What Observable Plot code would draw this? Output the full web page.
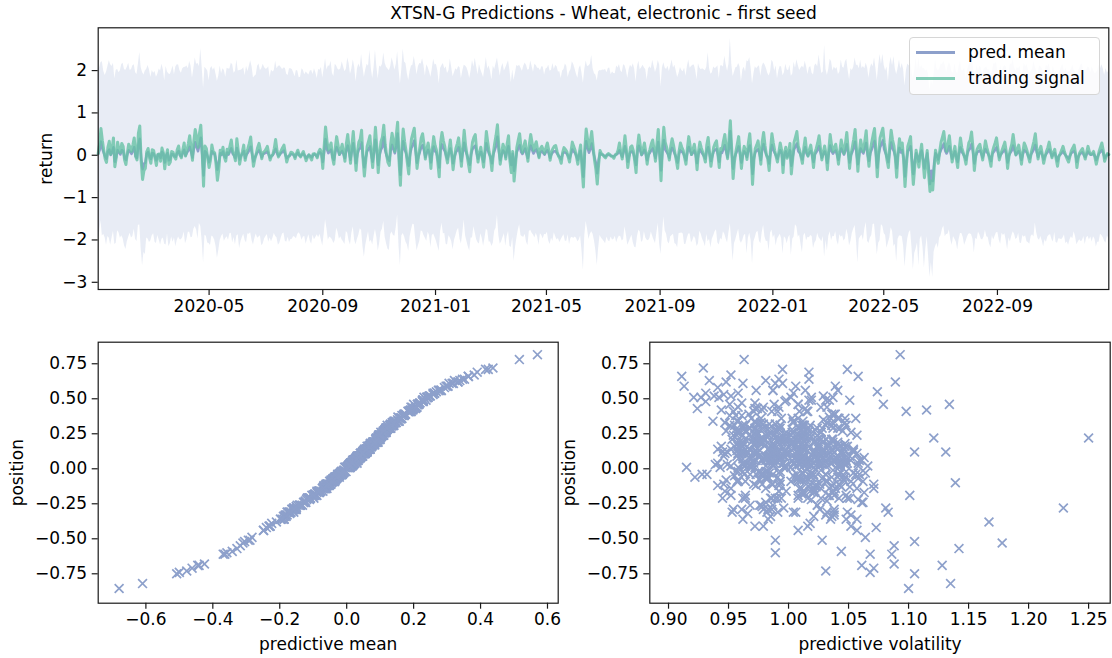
<!DOCTYPE html>
<html>
<head>
<meta charset="utf-8">
<script src="https://cdn.jsdelivr.net/npm/d3@7"></script>
<script src="https://cdn.jsdelivr.net/npm/@observablehq/plot@0.6"></script>
<style>
  html, body { margin: 0; padding: 0; background: #fff; }
  #root { position: relative; width: 1112px; height: 658px; overflow: hidden; font-family: "DejaVu Sans", sans-serif; }
  #root svg { position: absolute; overflow: visible; }
  .legend { position: absolute; left: 909px; top: 37px; width: 191px; height: 58px; box-sizing: border-box;
            border: 1px solid #d6d6d6; border-radius: 4px; background: rgba(255,255,255,0.8); }
  .legend .sw { position: absolute; left: 6px; width: 39px; height: 3px; }
  .legend .lb { position: absolute; left: 58px; font-size: 17px; line-height: 20px; color: #000; white-space: nowrap; }
</style>
</head>
<body>
<div id="root"></div>
<script>
// ---------------- data ----------------
const titleText = "XTSN-G Predictions - Wheat, electronic - first seed";
const seriesNames = ["pred. mean", "trading signal"];
const startDate = "2020-01-02";
const stepHours = 36;

// trading signal / position
const position = [
  0.04, 0.27, 0.63, 0.35, 0.12, -0.08, -0.17, 0.19, 0.33, 0.02, 0.14, 0.41, -0.27, -0.06, 0.31, 0.12, 0.06, 0.28, 0.21, -0.11,
  -0.22, 0.05, 0.26, 0.18, 0.09, 0.24, 0.41, -0.03, -0.11, 0.52, 0.69, -0.14, -0.57, -0.36, -0.31, 0.08, 0.16, -0.06, -0.19, 0.13,
  0.11, -0.07, -0.24, 0.02, 0.03, -0.14, 0.17, 0.06, -0.32, -0.03, 0.13, -0.22, -0.16, 0.09, 0.07, -0.04, -0.09, 0.13, 0.22, 0.01,
  -0.06, 0.12, 0.29, -0.02, 0.11, 0.27, 0.46, 0.18, -0.12, 0.33, 0.61, 0.42, 0.19, 0.51, 0.71, 0.08, -0.73, 0.22, 0.16, -0.07,
  -0.29, -0.11, 0.24, 0.08, 0.06, -0.21, -0.59, -0.33, 0.12, 0.03, 0.19, -0.04, -0.14, 0.14, 0.04, 0.21, 0.36, 0.09, 0.01, -0.13,
  0.39, 0.11, -0.21, -0.03, 0.08, 0.24, -0.12, 0.05, 0.16, 0.28, 0.43, 0.07, -0.26, -0.09, 0.03, 0.18, 0.28, 0.12, -0.08, 0.06,
  0.09, 0.14, 0.21, 0.04, -0.11, -0.02, 0.02, 0.16, 0.37, 0.11, -0.04, 0.03, 0.11, 0.18, 0.24, 0.04, -0.16, -0.05, -0.01, 0.07,
  0.06, 0.02, -0.08, 0.04, 0.12, 0.01, -0.04, 0.03, 0.09, -0.02, -0.13, -0.04, 0.01, -0.05, -0.11, 0.03, 0.04, 0.01, -0.06, 0.08,
  0.14, 0.08, -0.31, 0.21, 0.67, 0.34, 0.12, 0.19, 0.29, -0.06, -0.21, 0.17, 0.44, 0.24, 0.02, 0.13, 0.26, 0.06, -0.14, 0.27,
  0.49, 0.16, -0.19, 0.23, 0.56, 0.09, -0.36, 0.07, 0.31, 0.38, 0.59, -0.07, -0.49, -0.12, 0.21, 0.33, 0.46, 0.04, -0.29, 0.19,
  0.66, 0.18, -0.41, 0.04, 0.32, 0.43, 0.71, 0.26, 0.01, -0.17, -0.24, 0.27, 0.52, 0.31, 0.09, 0.47, 0.78, -0.13, -0.71, 0.14,
  0.62, 0.33, 0.12, -0.18, -0.44, 0.06, 0.39, 0.52, 0.64, 0.17, -0.31, -0.04, 0.18, 0.41, 0.51, 0.26, -0.09, 0.14, 0.29, 0.08,
  -0.31, 0.14, 0.44, 0.23, 0.12, -0.17, -0.51, 0.31, 0.54, 0.34, 0.21, -0.02, -0.18, 0.12, 0.36, 0.03, -0.34, -0.06, 0.16, 0.27,
  0.41, 0.09, -0.26, 0.18, 0.59, 0.24, 0.02, -0.19, -0.39, 0.04, 0.31, 0.42, 0.49, 0.11, -0.16, 0.06, 0.19, -0.04, -0.28, 0.13,
  0.56, 0.31, 0.08, -0.07, -0.36, 0.04, 0.28, 0.47, 0.72, 0.21, -0.21, 0.03, 0.26, 0.16, -0.09, 0.27, 0.46, -0.14, -0.41, 0.09,
  -0.61, -0.23, 0.19, 0.36, 0.51, 0.18, 0.06, 0.21, 0.34, 0.07, -0.14, 0.26, 0.49, 0.29, 0.11, 0.22, 0.32, 0.13, -0.06, 0.16,
  0.21, 0.13, 0.04, 0.18, 0.29, 0.12, -0.12, 0.07, 0.16, 0.21, 0.23, 0.09, -0.02, -0.08, -0.19, 0.06, 0.18, 0.14, 0.09, -0.04,
  -0.16, 0.08, 0.31, 0.21, 0.12, -0.04, -0.21, 0.06, 0.24, -0.31, -0.75, 0.14, 0.62, 0.38, 0.14, 0.33, 0.56, 0.21, -0.11, -0.33,
  -0.68, -0.21, 0.11, 0.04, 0.01, -0.03, -0.06, 0.01, 0.04, 0.02, -0.02, -0.03, -0.07, 0.01, 0.03, 0.12, 0.29, 0.08, -0.09, 0.16,
  0.46, 0.13, -0.29, -0.04, 0.19, 0.22, 0.11, -0.13, -0.41, 0.19, 0.48, 0.24, 0.02, 0.13, 0.29, 0.07, -0.21, 0.03, 0.14, 0.27,
  0.36, 0.12, -0.14, 0.26, 0.61, 0.04, -0.6, 0.19, 0.66, 0.31, 0.19, 0.06, -0.11, 0.21, 0.39, 0.24, 0.06, -0.12, -0.31, 0.09,
  0.29, 0.19, 0.11, -0.06, -0.21, 0.16, 0.44, 0.22, 0.02, 0.13, 0.26, 0.04, -0.34, 0.08, 0.31, 0.18, 0.08, -0.03, -0.16, 0.24,
  0.42, 0.07, -0.26, -0.02, 0.19, 0.28, 0.34, 0.04, -0.29, 0.16, 0.12, 0.33, 0.49, 0.19, -0.08, 0.36, 0.815, 0.13, -0.55, -0.14,
  0.09, 0.26, 0.44, 0.07, -0.31, 0.02, 0.21, 0.11, -0.1, 0.29, 0.51, 0.06, -0.69, -0.12, 0.16, 0.24, 0.34, 0.09, -0.21, 0.32,
  0.54, 0.23, 0.01, -0.09, -0.36, 0.14, 0.51, 0.29, 0.11, -0.03, -0.16, 0.08, 0.29, 0.12, -0.41, 0.04, 0.19, -0.07, 0.06, 0.28,
  -0.44, -0.08, 0.31, 0.43, 0.56, 0.21, 0.12, -0.04, -0.19, 0.17, 0.41, 0.09, -0.02, 0.13, 0.24, 0.02, -0.29, 0.06, 0.16, 0.29,
  0.46, 0.17, -0.11, 0.06, 0.22, 0.03, -0.34, 0.12, 0.49, 0.24, 0.09, 0.18, 0.26, 0.04, -0.21, 0.11, 0.36, 0.19, 0.04, 0.27,
  0.54, 0.13, -0.31, 0.02, 0.19, 0.38, 0.61, 0.14, -0.38, 0.06, 0.36, 0.19, 0.09, 0.33, 0.58, 0.06, -0.26, 0.12, 0.31, 0.48,
  0.63, 0.09, -0.51, 0.04, 0.41, 0.53, 0.64, 0.31, 0.11, -0.11, -0.29, 0.24, 0.59, 0.36, 0.22, -0.06, -0.52, 0.07, 0.39, 0.14,
  0.29, -0.12, -0.74, -0.24, 0.21, 0.32, 0.44, -0.19, -0.69, -0.28, 0.12, -0.06, -0.28, 0.04, 0.26, -0.14, -0.53, -0.21, 0.11, -0.42,
  -0.855, -0.61, -0.82, -0.33, 0.12, -0.04, -0.19, 0.09, 0.31, 0.43, 0.56, 0.24, 0.09, 0.27, 0.46, 0.12, -0.16, 0.03, 0.21, -0.07,
  -0.29, 0.12, 0.41, 0.17, 0.06, -0.06, -0.21, 0.08, 0.29, 0.36, 0.55, 0.19, -0.36, -0.03, 0.14, 0.21, 0.26, 0.08, -0.11, 0.11,
  0.34, 0.18, 0.06, -0.09, -0.26, 0.07, 0.19, 0.29, 0.41, 0.16, -0.11, 0.02, 0.12, 0.21, 0.31, 0.09, -0.31, -0.02, 0.14, 0.26,
  0.49, 0.24, 0.01, 0.13, 0.24, 0.04, -0.21, 0.07, 0.29, 0.21, 0.11, -0.04, -0.16, 0.06, 0.19, 0.33, 0.51, 0.16, -0.09, 0.12,
  0.21, 0.03, -0.19, -0.04, 0.09, 0.18, 0.31, 0.12, -0.06, 0.06, 0.14, -0.08, -0.26, -0.03, 0.04, 0.12, 0.21, 0.08, -0.01, -0.09,
  -0.16, -0.02, 0.11, 0.17, 0.24, 0.04, -0.29, -0.06, 0.06, 0.11, 0.16, 0.03, -0.09, 0.06, 0.21, 0.08, 0.02, 0.04, 0.09, -0.05,
  -0.21, -0.06, 0.09, 0.19, 0.29, 0.11, -0.14, -0.04, 0.04, 0.02
];

// predictive mean
const predMean = [
  0.031, 0.118, 0.322, 0.152, 0.059, -0.034, -0.081, 0.087, 0.136, 0.006, 0.07, 0.19, -0.151, -0.036, 0.121, 0.058, 0.018, 0.12, 0.1, -0.058,
  -0.111, 0.019, 0.118, 0.083, 0.031, 0.097, 0.193, -0.02, -0.062, 0.25, 0.39, -0.073, -0.328, -0.198, -0.178, 0.04, 0.073, -0.022, -0.089, 0.05,
  0.041, -0.04, -0.122, 0.011, 0.019, -0.066, 0.084, 0.034, -0.17, -0.012, 0.052, -0.12, -0.089, 0.032, 0.025, -0.027, -0.037, 0.061, 0.101, -0.002,
  -0.028, 0.051, 0.131, -0.006, 0.056, 0.112, 0.2, 0.077, -0.055, 0.147, 0.306, 0.194, 0.094, 0.243, 0.415, 0.029, -0.478, 0.097, 0.064, -0.041,
  -0.164, -0.047, 0.095, 0.039, 0.033, -0.118, -0.342, -0.184, 0.047, 0.008, 0.09, -0.015, -0.059, 0.066, 0.014, 0.091, 0.165, 0.035, -0.004, -0.069,
  0.172, 0.055, -0.098, -0.019, 0.041, 0.098, -0.068, 0.016, 0.061, 0.119, 0.201, 0.037, -0.148, -0.051, 0.02, 0.071, 0.114, 0.048, -0.047, 0.028,
  0.046, 0.058, 0.087, 0.019, -0.061, -0.016, 0.004, 0.074, 0.153, 0.044, -0.013, 0.018, 0.055, 0.082, 0.111, 0.011, -0.071, -0.028, -0.009, 0.027,
  0.021, 0.013, -0.041, 0.016, 0.061, -0.001, -0.022, 0.019, 0.038, -0.008, -0.07, -0.024, 0.009, -0.021, -0.05, 0.009, 0.024, 0.002, -0.033, 0.041,
  0.07, 0.033, -0.158, 0.089, 0.381, 0.141, 0.05, 0.088, 0.132, -0.033, -0.11, 0.069, 0.192, 0.109, 0.013, 0.059, 0.102, 0.021, -0.068, 0.118,
  0.228, 0.071, -0.104, 0.104, 0.282, 0.039, -0.187, 0.026, 0.134, 0.165, 0.301, -0.037, -0.283, -0.052, 0.093, 0.147, 0.211, 0.023, -0.151, 0.078,
  0.364, 0.076, -0.231, 0.011, 0.131, 0.198, 0.423, 0.117, -0.006, -0.089, -0.129, 0.109, 0.246, 0.139, 0.048, 0.219, 0.516, -0.061, -0.462, 0.062,
  0.333, 0.138, 0.061, -0.094, -0.248, 0.029, 0.171, 0.248, 0.346, 0.079, -0.177, -0.021, 0.071, 0.183, 0.239, 0.114, -0.046, 0.054, 0.129, 0.037,
  -0.169, 0.069, 0.206, 0.094, 0.06, -0.083, -0.289, 0.131, 0.258, 0.157, 0.096, -0.007, -0.096, 0.049, 0.161, 0.018, -0.189, -0.031, 0.071, 0.112,
  0.187, 0.043, -0.141, 0.072, 0.297, 0.101, 0.017, -0.099, -0.224, 0.021, 0.141, 0.198, 0.226, 0.046, -0.082, 0.024, 0.083, -0.015, -0.157, 0.051,
  0.283, 0.128, 0.03, -0.031, -0.187, 0.013, 0.115, 0.218, 0.437, 0.093, -0.116, 0.016, 0.114, 0.069, -0.044, 0.116, 0.216, -0.068, -0.232, 0.034,
  -0.369, -0.124, 0.079, 0.161, 0.241, 0.081, 0.029, 0.087, 0.156, 0.031, -0.063, 0.113, 0.228, 0.126, 0.041, 0.098, 0.139, 0.058, -0.035, 0.071,
  0.098, 0.052, 0.012, 0.08, 0.118, 0.049, -0.062, 0.026, 0.07, 0.096, 0.095, 0.042, -0.002, -0.043, -0.094, 0.03, 0.073, 0.062, 0.036, -0.021,
  -0.077, 0.029, 0.137, 0.088, 0.053, -0.021, -0.112, 0.022, 0.108, -0.166, -0.508, 0.062, 0.332, 0.172, 0.059, 0.142, 0.276, 0.089, -0.049, -0.178,
  -0.425, -0.114, 0.052, 0.021, 0.011, -0.014, -0.03, 0.008, 0.014, 0.007, -0.016, -0.018, -0.03, 0.006, 0.02, 0.048, 0.117, 0.036, -0.036, 0.074,
  0.213, 0.059, -0.151, -0.018, 0.079, 0.092, 0.05, -0.069, -0.229, 0.079, 0.226, 0.104, 0.004, 0.054, 0.129, 0.032, -0.116, 0.009, 0.06, 0.116,
  0.163, 0.047, -0.065, 0.114, 0.315, 0.016, -0.358, 0.081, 0.363, 0.135, 0.08, 0.027, -0.058, 0.094, 0.176, 0.098, 0.023, -0.062, -0.174, 0.038,
  0.117, 0.083, 0.054, -0.027, -0.117, 0.066, 0.195, 0.097, 0.012, 0.058, 0.11, 0.012, -0.186, 0.034, 0.135, 0.076, 0.03, -0.018, -0.082, 0.103,
  0.19, 0.032, -0.137, -0.013, 0.09, 0.121, 0.153, 0.019, -0.156, 0.071, 0.056, 0.139, 0.237, 0.081, -0.044, 0.163, 0.57, 0.054, -0.318, -0.063,
  0.038, 0.111, 0.21, 0.034, -0.17, 0.004, 0.091, 0.049, -0.045, 0.125, 0.231, 0.021, -0.441, -0.058, 0.074, 0.108, 0.143, 0.041, -0.11, 0.136,
  0.263, 0.102, 0.008, -0.047, -0.197, 0.063, 0.24, 0.119, 0.053, -0.012, -0.085, 0.036, 0.119, 0.052, -0.229, 0.013, 0.092, -0.035, 0.026, 0.117,
  -0.249, -0.034, 0.134, 0.206, 0.279, 0.092, 0.058, -0.023, -0.099, 0.076, 0.19, 0.037, -0.014, 0.061, 0.1, 0.007, -0.158, 0.022, 0.07, 0.123,
  0.212, 0.074, -0.058, 0.022, 0.09, 0.009, -0.181, 0.056, 0.229, 0.097, 0.037, 0.082, 0.111, 0.019, -0.108, 0.046, 0.158, 0.088, 0.015, 0.112,
  0.262, 0.061, -0.172, 0.005, 0.08, 0.169, 0.319, 0.054, -0.21, 0.029, 0.16, 0.083, 0.043, 0.148, 0.292, 0.019, -0.132, 0.051, 0.133, 0.229,
  0.338, 0.038, -0.294, 0.018, 0.186, 0.258, 0.352, 0.136, 0.049, -0.055, -0.163, 0.097, 0.303, 0.158, 0.088, -0.031, -0.305, 0.033, 0.174, 0.065,
  0.121, -0.058, -0.5, -0.127, 0.093, 0.141, 0.209, -0.099, -0.445, -0.159, 0.049, -0.033, -0.15, 0.024, 0.109, -0.07, -0.31, -0.112, 0.047, -0.24,
  -0.68, -0.364, -0.61, -0.181, 0.05, -0.015, -0.101, 0.038, 0.131, 0.199, 0.274, 0.104, 0.04, 0.113, 0.214, 0.057, -0.081, 0.009, 0.091, -0.036,
  -0.159, 0.049, 0.186, 0.074, 0.026, -0.031, -0.111, 0.032, 0.122, 0.162, 0.268, 0.086, -0.193, -0.009, 0.061, 0.092, 0.112, 0.041, -0.057, 0.052,
  0.146, 0.081, 0.031, -0.04, -0.139, 0.028, 0.079, 0.122, 0.186, 0.067, -0.053, 0.014, 0.054, 0.089, 0.132, 0.033, -0.17, -0.005, 0.059, 0.109,
  0.228, 0.104, 0.003, 0.057, 0.098, 0.014, -0.111, 0.029, 0.121, 0.094, 0.052, -0.022, -0.079, 0.026, 0.08, 0.144, 0.243, 0.073, -0.041, 0.049,
  0.087, 0.009, -0.097, -0.019, 0.039, 0.077, 0.135, 0.054, -0.029, 0.031, 0.058, -0.041, -0.142, -0.017, 0.016, 0.049, 0.094, 0.034, -0.007, -0.043,
  -0.083, -0.008, 0.05, 0.078, 0.099, 0.018, -0.158, -0.031, 0.027, 0.049, 0.068, 0.007, -0.043, 0.021, 0.088, 0.035, 0.01, 0.019, 0.041, -0.026,
  -0.113, -0.029, 0.04, 0.084, 0.12, 0.047, -0.07, -0.016, 0.018, 0.011
];

// predictive volatility
const predVol = [
  1.004, 0.973, 0.934, 1.029, 0.962, 0.958, 1.021, 1.004, 1.047, 1.066, 1.012, 0.991, 0.978, 1.022, 0.951, 0.945, 0.989, 1.011, 1.036, 1.038,
  1.058, 1.031, 1.027, 0.962, 0.993, 1.009, 0.971, 0.984, 0.986, 0.952, 1.017, 1.071, 1.142, 1.048, 1.083, 0.997, 1.024, 1.019, 0.964, 0.976,
  0.947, 1.008, 0.981, 0.952, 1.009, 1.027, 1.033, 0.993, 0.966, 1.054, 0.957, 1.019, 0.998, 0.981, 1.041, 0.963, 1.062, 1.037, 1.015, 0.998,
  0.983, 0.996, 0.972, 1.043, 1.026, 0.965, 1.008, 1.012, 0.941, 0.947, 0.995, 0.978, 1.037, 0.927, 1.049, 1.029, 1.031, 0.992, 0.988, 1.016,
  0.961, 1.042, 1.002, 0.985, 1.018, 1.016, 1.044, 1.031, 1.029, 0.962, 0.976, 1.007, 0.952, 0.995, 1.011, 0.973, 1.003, 1.051, 0.969, 1.023,
  1.038, 0.966, 1.051, 1.012, 0.992, 0.983, 0.973, 1.044, 0.958, 0.992, 1.014, 1.028, 0.987, 0.957, 0.939, 1.015, 1.022, 0.974, 1.046, 1.061,
  1.013, 0.988, 0.979, 1.036, 0.946, 1.014, 0.981, 0.961, 1.034, 0.999, 1.056, 1.047, 1.008, 0.972, 0.974, 1.021, 0.992, 0.955, 1.027, 1.009,
  1.003, 0.967, 0.948, 0.995, 0.962, 0.915, 0.932, 1.013, 0.985, 0.956, 1.017, 0.978, 0.943, 1.004, 1.026, 0.949, 1.009, 0.972, 0.922, 0.993,
  0.968, 1.021, 0.991, 0.976, 0.952, 0.937, 1.029, 1.008, 1.043, 0.983, 0.986, 1.041, 0.958, 0.962, 0.997, 0.992, 1.052, 1.034, 1.021, 0.958,
  1.034, 1.047, 1.008, 0.969, 0.987, 1.023, 0.962, 1.005, 1.011, 0.951, 1.039, 1.058, 1.064, 1.036, 1.027, 0.977, 1.134, 1.014, 0.983, 0.998,
  1.058, 1.006, 1.016, 1.049, 0.974, 0.974, 0.995, 1.027, 1.042, 1.063, 1.061, 0.991, 1.029, 1.018, 0.981, 0.961, 0.963, 1.044, 1.071, 0.983,
  1.089, 1.032, 1.054, 1.011, 1.008, 0.978, 0.967, 0.938, 0.992, 1.025, 1.038, 1.059, 1.047, 0.986, 1.019, 1.003, 0.958, 1.041, 0.973, 0.967,
  1.006, 0.983, 1.032, 1.019, 1.044, 1.037, 0.989, 0.962, 0.931, 1.004, 0.971, 1.048, 1.013, 0.974, 1.056, 1.026, 1.021, 0.991, 0.985, 0.948,
  0.954, 1.013, 0.977, 0.958, 0.913, 1.002, 1.026, 1.034, 1.018, 0.986, 1.048, 0.944, 1.031, 1.021, 0.992, 1.059, 0.969, 0.973, 0.996, 1.007,
  1.014, 0.955, 1.039, 1.008, 0.983, 1.046, 0.956, 0.972, 0.929, 0.993, 0.994, 1.028, 1.027, 0.961, 1.052, 1.017, 1.008, 1.039, 0.972, 0.989,
  1.068, 1.032, 1.021, 0.969, 0.942, 0.987, 0.978, 1.011, 1.012, 1.044, 1.034, 0.957, 0.998, 0.984, 0.961, 1.026, 0.989, 0.998, 1.045, 0.962,
  0.997, 1.016, 0.941, 0.978, 0.967, 1.038, 1.024, 0.992, 1.049, 0.964, 1.011, 1.023, 0.983, 1.009, 0.952, 0.981, 0.976, 1.046, 1.032, 0.928,
  1.018, 0.994, 1.036, 1.027, 0.991, 0.968, 0.964, 1.012, 1.007, 1.049, 1.105, 0.983, 0.948, 0.961, 1.025, 1.004, 1.041, 0.976, 0.987, 1.038,
  1.088, 1.042, 0.974, 0.988, 1.002, 1.011, 1.029, 0.969, 1.016, 1.026, 0.958, 0.992, 0.981, 0.958, 1.043, 1.007, 1.012, 0.979, 0.993, 1.033,
  0.951, 0.972, 0.986, 1.019, 1.022, 0.989, 1.057, 1.051, 0.979, 1.003, 0.997, 0.957, 1.031, 1.036, 0.968, 0.993, 0.945, 1.015, 1.014, 0.964,
  1.041, 1.027, 1.009, 0.974, 0.962, 1.058, 0.989, 0.991, 0.911, 0.962, 0.973, 1.037, 1.018, 1.008, 1.036, 0.981, 1.052, 1.022, 1.004, 0.946,
  0.979, 0.959, 0.958, 1.041, 0.991, 1.012, 1.027, 0.978, 1.043, 1.033, 1.012, 0.996, 0.985, 1.063, 0.964, 0.971, 1.006, 1.019, 1.038, 0.988,
  1.115, 1.008, 1.024, 0.981, 0.996, 0.963, 0.957, 1.046, 0.983, 1.017, 1.029, 0.972, 1.051, 1.029, 1.013, 0.994, 1.093, 1.054, 1.088, 1.011,
  1.013, 0.985, 0.979, 1.024, 0.953, 1.006, 0.994, 0.958, 1.139, 1.041, 1.037, 1.016, 1.061, 0.992, 1.008, 0.967, 0.972, 1.035, 0.989, 0.979,
  0.958, 1.019, 1.021, 0.993, 1.035, 0.952, 1.002, 1.037, 0.964, 1.064, 0.947, 0.981, 0.991, 1.012, 1.052, 0.969, 1.028, 1.028, 0.986, 1.003,
  1.057, 0.976, 1.031, 0.924, 0.987, 1.014, 0.971, 1.042, 1.101, 0.989, 1.015, 1.027, 0.962, 1.003, 0.998, 0.964, 1.026, 1.048, 1.043, 0.981,
  1.079, 1.033, 0.993, 0.971, 1.25, 1.009, 1.036, 0.988, 1.019, 1.057, 0.975, 1.002, 0.959, 1.026, 1.008, 0.961, 1.047, 0.994, 1.021, 1.045,
  1.004, 0.968, 0.982, 1.019, 0.961, 0.956, 0.989, 1.036, 1.167, 1.007, 1.042, 0.983, 1.027, 0.947, 0.941, 1.024, 0.976, 1.001, 1.013, 0.931,
  0.981, 1.012, 1.028, 1.047, 1.098, 0.946, 1.017, 0.993, 0.971, 1.071, 0.954, 1.024, 1.006, 0.977, 1.121, 1.036, 1.105, 1.009, 1.039, 0.985,
  1.024, 1.043, 1.068, 1.062, 1.031, 0.984, 0.992, 1.038, 1.128, 1.081, 1.131, 1.019, 1.229, 1.005, 1.009, 1.057, 1.178, 1.049, 0.986, 1.073,
  1.10, 1.086, 1.135, 1.052, 1.105, 1.031, 1.048, 0.997, 1.012, 0.972, 0.973, 1.015, 0.957, 0.989, 0.988, 1.027, 1.021, 0.964, 1.037, 1.006,
  1.038, 1.021, 1.016, 0.961, 0.984, 1.047, 0.962, 0.983, 0.993, 1.008, 1.074, 1.034, 1.057, 0.976, 1.029, 0.953, 0.998, 1.013, 0.971, 0.991,
  0.958, 1.003, 0.987, 1.031, 1.024, 0.968, 1.041, 1.017, 1.009, 0.944, 0.978, 1.058, 0.949, 0.991, 0.993, 1.026, 1.032, 0.975, 1.054, 1.012,
  1.017, 0.984, 0.996, 1.009, 0.972, 1.043, 0.985, 0.962, 1.028, 0.997, 1.046, 1.021, 1.012, 0.973, 0.979, 1.036, 0.921, 0.955, 0.964, 1.028,
  1.002, 1.018, 1.033, 0.987, 1.048, 1.004, 1.013, 0.966, 0.981, 1.039, 0.941, 1.011, 0.968, 0.978, 0.996, 1.023, 1.024, 0.959, 1.037, 1.002,
  1.022, 0.993, 0.987, 1.026, 0.954, 0.971, 0.979, 1.008, 1.011, 1.044, 1.043, 0.962, 1.032, 0.986, 0.999, 1.017, 0.969, 1.035, 0.983, 0.978,
  1.027, 1.014, 1.046, 0.976, 1.008, 0.998, 0.981, 1.031, 0.962, 0.987
];

// tick values / labels
const dateTicks = ["2020-05-01", "2020-09-01", "2021-01-01", "2021-05-01", "2021-09-01", "2022-01-01", "2022-05-01", "2022-09-01"];
const returnTicks = [-3, -2, -1, 0, 1, 2];
const meanTicks = [-0.6, -0.4, -0.2, 0.0, 0.2, 0.4, 0.6];
const positionTicks = [-0.75, -0.5, -0.25, 0.0, 0.25, 0.5, 0.75];
const volTicks = [0.90, 0.95, 1.00, 1.05, 1.10, 1.15, 1.20, 1.25];
const axisTitles = {ret: "return", pos: "position", mean: "predictive mean", vol: "predictive volatility"};

// ---------------- build ----------------
const start = new Date(startDate + "T00:00:00Z");
const n = Math.min(position.length, predMean.length, predVol.length);
const rows = d3.range(n).map(i => ({
  date: d3.utcHour.offset(start, i * stepHours),
  position: position[i],
  mean: predMean[i],
  vol: predVol[i],
  lo: predMean[i] - 2 * predVol[i],
  hi: predMean[i] + 2 * predVol[i]
}));

const C_MEAN = "#8da0cb", C_SIG = "#66c2a5", AX = "#1a1a1a";
const style = {fontFamily: '"DejaVu Sans", sans-serif', fontSize: "17px", color: "#000", background: "transparent", overflow: "visible"};
const axisOpts = {tickSize: 6, strokeWidth: 1.2, stroke: AX, label: null};

const root = document.getElementById("root");

const topPlot = Plot.plot({
  width: 1112, height: 325,
  marginLeft: 97.7, marginRight: 3.7, marginTop: 27.3, marginBottom: 36,
  style,
  x: {type: "utc", domain: [rows[0].date, rows[n - 1].date]},
  y: {domain: [-3.17, 3.01]},
  marks: [
    Plot.areaY(rows, {x: "date", y1: "lo", y2: "hi", fill: C_MEAN, fillOpacity: 0.2}),
    Plot.lineY(rows, {x: "date", y: "mean", stroke: C_MEAN, strokeWidth: 2.5}),
    Plot.lineY(rows, {x: "date", y: "position", stroke: C_SIG, strokeOpacity: 0.8, strokeWidth: 3}),
    Plot.frame({stroke: AX, strokeWidth: 1.2}),
    Plot.axisX({...axisOpts, ticks: dateTicks.map(d => new Date(d + "T00:00:00Z")), tickFormat: d3.utcFormat("%Y-%m"), tickPadding: 4}),
    Plot.axisY({...axisOpts, ticks: returnTicks, tickFormat: d3.format("d"), tickPadding: 5}),
    Plot.text([axisTitles.ret], {text: d => d, frameAnchor: "left", dx: -52, rotate: -90, textAnchor: "middle", lineAnchor: "middle"}),
    Plot.text([titleText], {text: d => d, frameAnchor: "top", dy: -14, textAnchor: "middle", lineAnchor: "middle"})
  ]
});
topPlot.style.left = "0px"; topPlot.style.top = "0px";
root.appendChild(topPlot);

function scatter(xField, xDomain, xTicks, xFmt, xTitle, width, mLeft, mRight) {
  return Plot.plot({
    width, height: 333,
    marginLeft: mLeft, marginRight: mRight, marginTop: 16.7, marginBottom: 55.3,
    style,
    x: {domain: xDomain},
    y: {domain: [-0.96, 0.904]},
    marks: [
      Plot.dot(rows, {x: xField, y: "position", symbol: "times", r: 4.1, stroke: C_MEAN, strokeWidth: 1.7}),
      Plot.frame({stroke: AX, strokeWidth: 1.2}),
      Plot.axisX({...axisOpts, ticks: xTicks, tickFormat: xFmt, tickPadding: 4}),
      Plot.axisY({...axisOpts, ticks: positionTicks, tickFormat: d3.format(".2f"), tickPadding: 5}),
      Plot.text([axisTitles.pos], {text: d => d, frameAnchor: "left", dx: -80.7, rotate: -90, textAnchor: "middle", lineAnchor: "middle"}),
      Plot.text([xTitle], {text: d => d, frameAnchor: "bottom", dy: 41, textAnchor: "middle", lineAnchor: "middle"})
    ]
  });
}

const bl = scatter("mean", [-0.7425, 0.632], meanTicks, d3.format(".1f"), axisTitles.mean, 580, 97.7, 22.3);
bl.style.left = "0px"; bl.style.top = "325px";
root.appendChild(bl);

const br = scatter("vol", [0.8844, 1.268], volTicks, d3.format(".2f"), axisTitles.vol, 572, 109.3, 2.3);
br.style.left = "540px"; br.style.top = "325px";
root.appendChild(br);

// legend
const lg = document.createElement("div");
lg.className = "legend";
[[seriesNames[0], C_MEAN, 1, 14], [seriesNames[1], C_SIG, 0.8, 40]].forEach(([name, col, op, y]) => {
  const sw = document.createElement("div");
  sw.className = "sw"; sw.style.top = (y - 1.5) + "px"; sw.style.background = col; sw.style.opacity = op;
  const lb = document.createElement("div");
  lb.className = "lb"; lb.style.top = (y - 10) + "px"; lb.textContent = name;
  lg.appendChild(sw); lg.appendChild(lb);
});
root.appendChild(lg);
</script>
</body>
</html>
